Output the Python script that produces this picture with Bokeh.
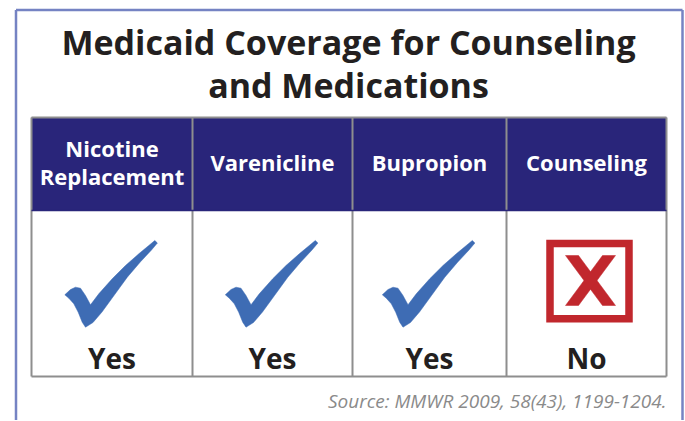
from bokeh.plotting import figure
from bokeh.models import Range1d
from bokeh.core.properties import value
from bokeh.embed import file_html
from bokeh.resources import INLINE

# ---- data ----
title_lines = ["Medicaid Coverage for Counseling", "and Medications"]
categories = ["Nicotine\nReplacement", "Varenicline", "Bupropion", "Counseling"]
covered = ["Yes", "Yes", "Yes", "No"]
source_note = "Source: MMWR 2009, 58(43), 1199-1204."

# ---- layout / style constants (window pixel coordinates) ----
W, H = 684, 420
COL_EDGES = [31, 192, 352, 506, 666]
HEAD_TOP, HEAD_BOT, BODY_BOT = 117, 210, 376
ICON_CY = 283
NAVY = "#29257a"
GRID = "#8e8e8e"
BLUE = "#3e6cb4"
RED = "#c1272d"
DARK = "#231f20"
FRAME = "#7583c3"
BASE_FIX = 0.39  # baseline compensation (fraction of font size)

# check mark outline, relative to (cell centre, ICON_CY)
CHECK = [(-47.2, 11.3), (-41.5, 6), (-36.5, 3.7), (-31.5, 4.7), (-26.5, 12), (-21.5, 21.3),
         (-13.2, 10.3), (0.2, -4.7), (13.5, -18), (26.8, -29.7), (36.8, -38), (42.8, -43),
         (45.4, -40.5), (39.5, -33.5), (28.3, -21.5), (15.3, -6.3), (2.0, 12.0), (-10.0, 28.5),
         (-19.0, 39.0), (-26.5, 43.7), (-29.8, 38.7), (-33.8, 28.7), (-38.2, 20.3), (-43.2, 14.7)]
# X box and X strokes, relative to (cell centre, ICON_CY)
BOX = (-36.5, 42.5, -40, 35.3)
XSTROKES = [[(-21, -28), (-8, -28), (29, 22), (16, 22)],
            [(16, -28), (29, -28), (-8, 22), (-21, 22)]]


def bl(y, size):
    return y - BASE_FIX * size


p = figure(width=W, height=H, x_range=Range1d(0, W), y_range=Range1d(H, 0),
           output_backend="svg", toolbar_location=None, min_border=0)
p.axis.visible = False
p.grid.visible = False
p.outline_line_color = None
p.background_fill_color = "white"
p.border_fill_color = "white"

# outer frame
p.segment(x0=[15.5, 15.5, 682], y0=[9.5, 9.5, 9.5], x1=[15.5, 682, 682], y1=[H, 9.5, H],
          line_color=FRAME, line_width=2.5)

# title
for i, t in enumerate(title_lines):
    p.text(x=[348], y=[bl(55 + 43 * i, 34)], text=[t], text_align="center", text_baseline="alphabetic",
           text_font=value("Open Sans"), text_font_style="bold", text_font_size="34px",
           text_color=DARK)

n = len(categories)
centers = [(COL_EDGES[i] + COL_EDGES[i + 1]) / 2 for i in range(n)]

# header band
p.quad(left=[COL_EDGES[0]], right=[COL_EDGES[-1]], top=[HEAD_TOP], bottom=[HEAD_BOT],
       fill_color=NAVY, line_color=None)

# grid lines
p.segment(x0=COL_EDGES, y0=[HEAD_TOP] * len(COL_EDGES), x1=COL_EDGES, y1=[BODY_BOT] * len(COL_EDGES),
          line_color=GRID, line_width=2)
p.segment(x0=[COL_EDGES[0]] * 2, y0=[HEAD_TOP, BODY_BOT], x1=[COL_EDGES[-1]] * 2, y1=[HEAD_TOP, BODY_BOT],
          line_color=GRID, line_width=2)
p.segment(x0=[COL_EDGES[0]], y0=[HEAD_BOT], x1=[COL_EDGES[-1]], y1=[HEAD_BOT],
          line_color=NAVY, line_width=1.5)

# header labels
hx, hy, ht = [], [], []
for cx, cat in zip(centers, categories):
    lines = cat.split("\n")
    base = 170 - (len(lines) - 1) * 14
    for j, ln in enumerate(lines):
        hx.append(cx)
        hy.append(bl(base + 28 * j, 22))
        ht.append(ln)
p.text(x=hx, y=hy, text=ht, text_align="center", text_baseline="alphabetic",
       text_font=value("Open Sans"), text_font_style="bold", text_font_size="22px", text_color="white")

# icons
cxs, cys, xx, xy = [], [], [], []
box_l, box_r, box_t, box_b = [], [], [], []
for cx, c in zip(centers, covered):
    if c == "Yes":
        cxs.append([cx + dx for dx, dy in CHECK])
        cys.append([ICON_CY + dy for dx, dy in CHECK])
    else:
        box_l.append(cx + BOX[0]); box_r.append(cx + BOX[1])
        box_t.append(ICON_CY + BOX[2]); box_b.append(ICON_CY + BOX[3])
        for s in XSTROKES:
            xx.append([cx + dx for dx, dy in s])
            xy.append([ICON_CY + dy for dx, dy in s])
p.patches(xs=cxs, ys=cys, fill_color=BLUE, line_color=BLUE, line_width=0.5)
p.quad(left=box_l, right=box_r, top=box_t, bottom=box_b, fill_color=None,
       line_color=RED, line_width=7.5, line_join="miter")
p.patches(xs=xx, ys=xy, fill_color=RED, line_color=RED, line_width=0.5)

# Yes / No labels
p.text(x=centers, y=[bl(368, 28)] * n, text=covered, text_align="center", text_baseline="alphabetic",
       text_font=value("Open Sans"), text_font_style="bold", text_font_size="28px", text_color=DARK)

# source
p.text(x=[666], y=[bl(408, 19)], text=[source_note], text_align="right", text_baseline="alphabetic",
       text_font=value("Open Sans"), text_font_style="italic", text_font_size="19px",
       text_color="#8a8a8a")

open("out.html", "w").write(file_html(p, INLINE))
